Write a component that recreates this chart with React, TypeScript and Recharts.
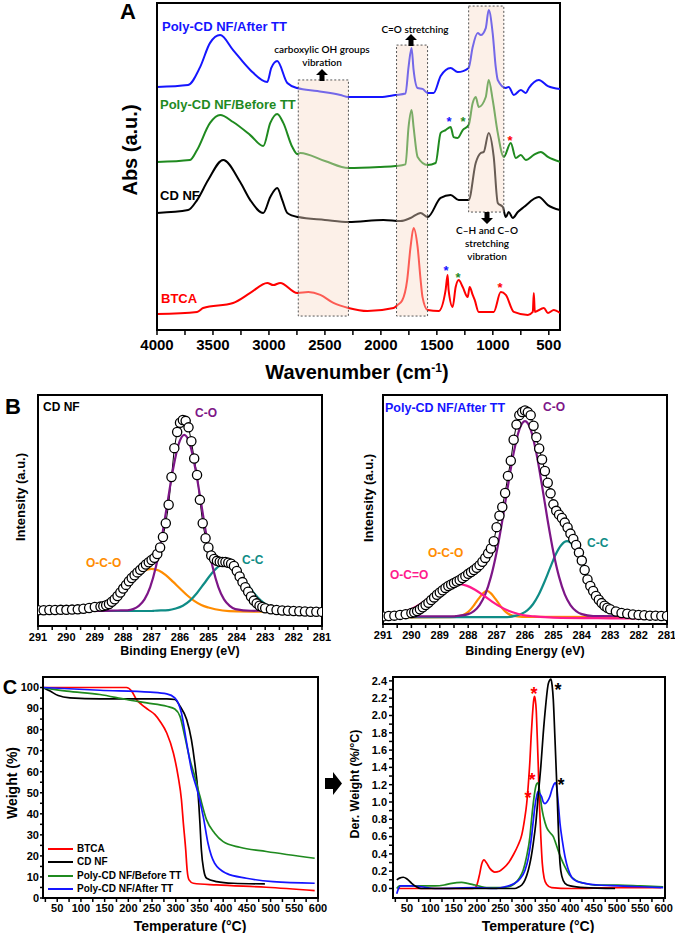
import React from 'react';
import { LineChart, Line, XAxis, YAxis, ReferenceArea } from 'recharts';

const FONT = '"Liberation Sans", Arial, Helvetica, sans-serif';

type Pt = [number, number];
const pts = (a: Pt[]) => a.map(([x, v]) => ({ x, v }));

// ---------- A: FTIR (wavenumber, absorbance offset) ----------
const ftirAfterTT: Pt[] = [
  [4000, 11.15], [3722, 11.24], [3615, 12.06], [3526, 13.17], [3436, 13.53], [3320, 12.84], [3167, 11.93],
  [3015, 11.38], [2979, 12.02], [2926, 12.34], [2836, 11.33], [2747, 11.1], [2568, 10.96], [2362, 10.78],
  [2290, 10.69], [2004, 10.69], [1869, 10.78], [1780, 10.85], [1753, 12.06], [1726, 12.94], [1708, 11.93],
  [1672, 11.1], [1628, 11.06], [1583, 10.87], [1529, 10.87], [1466, 11.65], [1377, 12.02], [1314, 11.83],
  [1216, 12.02], [1180, 12.98], [1135, 13.62], [1108, 13.53], [1063, 13.85], [1037, 14.68], [1001, 13.6],
  [974, 12.06], [956, 11.47], [884, 11.1], [858, 11.15], [813, 10.78], [750, 11.01], [705, 10.87],
  [678, 11.1], [589, 11.47], [508, 11.19], [400, 11.06],
];
const ftirBeforeTT: Pt[] = [
  [4000, 7.71], [3705, 7.8], [3642, 8.26], [3526, 9.5], [3436, 9.86], [3320, 9.54], [3167, 8.94], [3051, 8.44],
  [2988, 9.5], [2926, 9.91], [2872, 9.5], [2791, 8.39], [2747, 8.07], [2720, 8.12], [2500, 7.75], [2290, 7.43],
  [2004, 7.48], [1869, 7.52], [1780, 7.6], [1753, 9.31], [1726, 10.09], [1708, 9.31], [1672, 7.94], [1583, 7.57],
  [1511, 7.66], [1466, 9.04], [1422, 9.17], [1377, 9.31], [1350, 8.85], [1314, 8.81], [1269, 9.17], [1216, 9.4],
  [1180, 10.41], [1153, 10.69], [1126, 10.23], [1063, 10.69], [1037, 11.47], [1001, 10.55], [956, 9.04],
  [902, 7.94], [840, 8.58], [795, 7.89], [750, 8.03], [705, 7.8], [634, 8.03], [571, 8.17], [508, 7.94], [400, 7.71],
];
const ftirCDNF: Pt[] = [
  [4000, 5.37], [3722, 5.5], [3642, 5.96], [3543, 6.88], [3409, 7.8], [3257, 6.79], [3167, 5.96], [3051, 5.37],
  [2988, 6.1], [2926, 6.51], [2881, 5.96], [2836, 5.37], [2738, 5.18], [2500, 5.05], [2290, 4.95], [1977, 5.05],
  [1824, 5.0], [1735, 5.14], [1645, 5.37], [1583, 5.18], [1466, 6.06], [1377, 6.19], [1305, 5.96], [1216, 5.96],
  [1153, 7.66], [1108, 8.12], [1081, 8.17], [1037, 9.04], [992, 7.94], [956, 5.83], [911, 5.64], [884, 5.18],
  [858, 5.41], [822, 5.14], [777, 5.41], [723, 5.64], [589, 6.1], [508, 5.73], [400, 5.5],
];
const ftirBTCA: Pt[] = [
  [4000, 0.73], [3642, 0.83], [3588, 1.01], [3320, 1.24], [3167, 1.7], [3015, 2.16], [2961, 2.06], [2899, 2.16],
  [2747, 1.7], [2648, 1.74], [2541, 1.61], [2424, 1.24], [2290, 1.01], [2120, 0.87], [1887, 1.01], [1851, 1.15],
  [1810, 1.35], [1765, 2.3], [1735, 3.81], [1708, 4.68], [1672, 3.81], [1645, 2.29], [1628, 1.51], [1583, 0.92],
  [1484, 0.87], [1422, 1.83], [1404, 2.52], [1395, 1.83], [1359, 1.06], [1332, 1.97], [1305, 2.29], [1269, 1.97],
  [1225, 1.51], [1207, 1.97], [1180, 1.61], [1162, 1.38], [1126, 0.83], [992, 0.83], [929, 1.74], [884, 1.61],
  [813, 0.83], [687, 0.69], [643, 0.83], [634, 1.7], [625, 0.83], [544, 1.01], [508, 0.78], [455, 0.92], [400, 0.78],
];
const ftirBoxes = [
  { x1: 2738, x2: 2290, y1: 0.64, y2: 11.47 },
  { x1: 1860, x2: 1583, y1: 0.64, y2: 13.07 },
  { x1: 1216, x2: 902, y1: 5.41, y2: 14.86 },
];
const ftirXTicks = [4000, 3750, 3500, 3250, 3000, 2750, 2500, 2250, 2000, 1750, 1500, 1250, 1000, 750, 500];
const ftirYTicks = [0, 1, 2, 3, 4, 5, 6, 7, 8, 9, 10, 11, 12, 13, 14, 15];

// ---------- B: XPS C1s (binding energy, intensity) ----------
const beTicks = [281, 281.5, 282, 282.5, 283, 283.5, 284, 284.5, 285, 285.5, 286, 286.5, 287, 287.5, 288, 288.5, 289, 289.5, 290, 290.5, 291];

const cdExp: Pt[] = [
  [291, 0.18], [290.8, 0.18], [290.6, 0.19], [290.4, 0.19], [290.2, 0.2], [290, 0.2], [289.8, 0.21], [289.6, 0.22],
  [289.4, 0.25], [289.2, 0.28], [289, 0.32], [288.8, 0.34], [288.7, 0.36], [288.6, 0.4], [288.5, 0.45], [288.4, 0.55],
  [288.3, 0.66], [288.2, 0.8], [288.1, 0.95], [288, 1.12], [287.9, 1.28], [287.8, 1.44], [287.7, 1.58], [287.6, 1.7],
  [287.5, 1.82], [287.4, 1.93], [287.3, 2.05], [287.2, 2.16], [287.1, 2.26], [287, 2.36], [286.9, 2.45], [286.8, 2.62],
  [286.7, 2.9], [286.6, 3.35], [286.5, 3.95], [286.4, 4.75], [286.3, 5.95], [286.2, 7.2], [286.1, 7.9], [286, 8.3],
  [285.9, 8.42], [285.8, 8.38], [285.7, 8.1], [285.6, 7.5], [285.5, 6.75], [285.4, 6.04], [285.3, 4.96], [285.2, 3.95],
  [285.1, 3.3], [285, 2.9], [284.9, 2.55], [284.8, 2.4], [284.7, 2.32], [284.6, 2.28], [284.5, 2.27], [284.4, 2.27],
  [284.3, 2.24], [284.2, 2.2], [284.1, 2.1], [284, 1.88], [283.9, 1.64], [283.8, 1.4], [283.7, 1.18], [283.6, 0.98],
  [283.5, 0.78], [283.4, 0.6], [283.3, 0.48], [283.2, 0.38], [283.1, 0.32], [283, 0.27], [282.8, 0.22], [282.6, 0.19],
  [282.4, 0.17], [282.2, 0.16], [282, 0.15], [281.8, 0.14], [281.6, 0.13], [281.4, 0.12], [281.2, 0.12], [281, 0.11],
];
const cdCO: Pt[] = [
  [291, 0.15], [289, 0.15], [288.2, 0.17], [287.85, 0.18], [287.65, 0.23], [287.45, 0.37], [287.25, 0.65], [287.05, 1.18],
  [286.85, 2.05], [286.65, 3.28], [286.45, 4.77], [286.25, 6.25], [286.05, 7.36], [285.85, 7.77], [285.65, 7.36],
  [285.45, 6.25], [285.25, 4.77], [285.05, 3.28], [284.85, 2.05], [284.65, 1.18], [284.45, 0.65], [284.25, 0.37],
  [284.05, 0.23], [283.5, 0.16], [281, 0.15],
];
const cdOCO: Pt[] = [
  [291, 0.15], [290.5, 0.15], [290, 0.16], [289.5, 0.18], [289, 0.3], [288.75, 0.41], [288.5, 0.59], [288.25, 0.83],
  [288, 1.12], [287.75, 1.42], [287.5, 1.7], [287.25, 1.9], [287, 1.97], [286.75, 1.9], [286.5, 1.7], [286.25, 1.42],
  [286, 1.12], [285.75, 0.83], [285.5, 0.59], [285.25, 0.41], [285, 0.3], [284.5, 0.17], [284, 0.13], [283, 0.12],
  [282, 0.11], [281, 0.1],
];
const cdCC: Pt[] = [
  [291, 0.15], [288, 0.15], [287, 0.15], [286.9, 0.16], [286.4, 0.19], [286.15, 0.26], [285.9, 0.38], [285.65, 0.6],
  [285.4, 0.93], [285.15, 1.34], [284.9, 1.75], [284.65, 2.07], [284.4, 2.19], [284.15, 2.07], [283.9, 1.75],
  [283.65, 1.34], [283.4, 0.93], [283.15, 0.6], [282.9, 0.38], [282.65, 0.26], [282.4, 0.19], [281.9, 0.16], [281, 0.15],
];

const ttExp: Pt[] = [
  [291, 0.2], [290.8, 0.21], [290.6, 0.22], [290.4, 0.24], [290.2, 0.26], [290, 0.29], [289.9, 0.31], [289.8, 0.34],
  [289.7, 0.39], [289.6, 0.44], [289.5, 0.5], [289.4, 0.56], [289.3, 0.63], [289.2, 0.7], [289.1, 0.77], [289, 0.83],
  [288.9, 0.89], [288.8, 0.95], [288.7, 1.0], [288.6, 1.04], [288.5, 1.08], [288.4, 1.12], [288.3, 1.16], [288.2, 1.21],
  [288.1, 1.26], [288, 1.32], [287.9, 1.37], [287.8, 1.42], [287.7, 1.48], [287.6, 1.55], [287.5, 1.64], [287.4, 1.74],
  [287.3, 1.86], [287.2, 1.99], [287.1, 2.18], [287, 2.55], [286.9, 2.85], [286.8, 3.08], [286.7, 3.45], [286.6, 3.9],
  [286.5, 4.3], [286.4, 4.85], [286.3, 5.25], [286.2, 5.5], [286.1, 5.58], [286, 5.62], [285.9, 5.58], [285.8, 5.5],
  [285.7, 5.22], [285.6, 4.92], [285.5, 4.62], [285.4, 4.33], [285.3, 4.03], [285.2, 3.72], [285.1, 3.44], [285, 3.15],
  [284.9, 2.98], [284.8, 2.88], [284.7, 2.79], [284.6, 2.67], [284.5, 2.54], [284.4, 2.38], [284.3, 2.24], [284.2, 2.08],
  [284.1, 1.88], [284, 1.67], [283.9, 1.42], [283.8, 1.17], [283.7, 1.0], [283.6, 0.87], [283.5, 0.74], [283.4, 0.64],
  [283.3, 0.55], [283.2, 0.48], [283.1, 0.43], [283, 0.39], [282.8, 0.33], [282.6, 0.29], [282.4, 0.27], [282.2, 0.25],
  [282, 0.24], [281.8, 0.23], [281.6, 0.22], [281.4, 0.22], [281.2, 0.21], [281, 0.21],
];
const ttCO: Pt[] = [
  [291, 0.2], [288.5, 0.2], [288.4, 0.21], [288, 0.26], [287.8, 0.34], [287.6, 0.5], [287.4, 0.78], [287.2, 1.24],
  [287, 1.89], [286.8, 2.72], [286.6, 3.64], [286.4, 4.5], [286.2, 5.12], [286, 5.34], [285.8, 5.12], [285.6, 4.5],
  [285.4, 3.64], [285.2, 2.72], [285, 1.89], [284.8, 1.24], [284.6, 0.78], [284.4, 0.5], [284.2, 0.34], [284, 0.26],
  [283.6, 0.21], [281, 0.2],
];
const ttOCO: Pt[] = [
  [291, 0.17], [288.6, 0.18], [288.24, 0.22], [288.09, 0.27], [287.94, 0.36], [287.79, 0.5], [287.64, 0.66],
  [287.49, 0.8], [287.34, 0.87], [287.19, 0.8], [287.04, 0.66], [286.89, 0.5], [286.74, 0.36], [286.59, 0.27],
  [286.44, 0.22], [286.1, 0.19], [281, 0.18],
];
const ttOCdO: Pt[] = [
  [291, 0.2], [290.76, 0.22], [290.46, 0.27], [290.16, 0.34], [289.86, 0.45], [289.56, 0.59], [289.26, 0.75],
  [288.96, 0.9], [288.66, 1.01], [288.36, 1.05], [288.06, 1.01], [287.76, 0.9], [287.46, 0.75], [287.16, 0.59],
  [286.86, 0.45], [286.56, 0.34], [286.26, 0.27], [285.96, 0.22], [285.66, 0.2], [285, 0.17], [283, 0.15], [281, 0.14],
];
const ttCC: Pt[] = [
  [291, 0.18], [287, 0.18], [286.72, 0.18], [286.32, 0.22], [286.12, 0.27], [285.92, 0.36], [285.72, 0.52],
  [285.52, 0.77], [285.32, 1.1], [285.12, 1.47], [284.92, 1.83], [284.72, 2.08], [284.52, 2.18], [284.32, 2.08],
  [284.12, 1.83], [283.92, 1.47], [283.72, 1.1], [283.52, 0.77], [283.32, 0.52], [283.12, 0.36], [282.92, 0.27],
  [282.72, 0.22], [282.32, 0.18], [281, 0.17],
];

// ---------- C: TGA (temperature, weight %) ----------
const tgaBTCA: Pt[] = [
  [20, 100], [100, 100], [196, 100], [207, 98.3], [217, 94.3], [228, 91.9], [242, 89.5], [256, 87.1], [267, 83.9],
  [281, 78.4], [295, 68.9], [305, 57.8], [312, 46.7], [316, 35.6], [321, 22.9], [324, 13.3], [328, 8.6], [337, 7.0],
  [386, 6.2], [491, 5.1], [593, 3.5],
];
const tgaCDNF: Pt[] = [
  [20, 100], [35, 98.3], [52, 96.2], [77, 95.1], [140, 94.6], [281, 94.6], [298, 94.3], [309, 91.1], [323, 84.8],
  [333, 75.2], [340, 64.3], [347, 49.8], [351, 35.6], [354, 22.9], [359, 13.3], [365, 9.4], [386, 7.8], [421, 7.0],
  [488, 6.7],
];
const tgaBeforeTT: Pt[] = [
  [20, 100], [70, 98.3], [140, 96.7], [196, 94.3], [239, 92.7], [281, 91.1], [298, 89.8], [309, 86.3], [319, 76.8],
  [330, 65.7], [340, 57.8], [351, 48.3], [365, 37.1], [382, 30.8], [400, 26.8], [435, 24.1], [491, 22.1], [593, 18.9],
];
const tgaAfterTT: Pt[] = [
  [20, 100], [140, 98.7], [246, 97.8], [281, 97.0], [298, 95.1], [312, 87.9], [323, 73.7], [333, 61.0], [347, 49.8],
  [358, 38.7], [368, 26.0], [382, 16.5], [407, 11.7], [449, 9.4], [505, 7.8], [593, 7.0],
];
const tgaXTicks = [25, 50, 75, 100, 125, 150, 175, 200, 225, 250, 275, 300, 325, 350, 375, 400, 425, 450, 475, 500, 525, 550, 575, 600];
const tgaYTicks = [0, 5, 10, 15, 20, 25, 30, 35, 40, 45, 50, 55, 60, 65, 70, 75, 80, 85, 90, 95, 100];

// ---------- C: DTG (temperature, derivative weight) ----------
const dtgBTCA: Pt[] = [
  [30, 0], [100, 0], [190, 0], [198, 0.02], [205, 0.15], [210, 0.28], [215, 0.33], [220, 0.3], [228, 0.23], [238, 0.19],
  [248, 0.2], [258, 0.24], [268, 0.3], [278, 0.39], [288, 0.5], [296, 0.62], [302, 0.8], [306.5, 0.98], [310, 1.2],
  [313.5, 1.48], [316, 1.75], [318.6, 1.98], [321, 2.15], [323, 2.22], [325, 2.18], [327, 2.06], [329, 1.78],
  [331.4, 1.41], [333, 1.1], [335, 0.83], [337, 0.58], [340, 0.29], [344, 0.12], [349, 0.05], [360, 0.01], [400, 0],
  [500, 0.01], [595, 0.01],
];
const dtgCDNF: Pt[] = [
  [28, 0.1], [34, 0.12], [42, 0.13], [50, 0.11], [60, 0.06], [70, 0.02], [80, 0], [150, 0], [250, 0], [281, 0],
  [290, 0.02], [296, 0.04], [303, 0.1], [310, 0.21], [315, 0.33], [320.6, 0.52], [326, 0.75], [331, 1.06], [337, 1.42],
  [342, 1.79], [347, 2.1], [353, 2.37], [358.6, 2.42], [361, 2.35], [363.6, 2.18], [367, 1.75], [371, 1.21], [374, 0.75],
  [378, 0.29], [382, 0.14], [388.6, 0.06], [400, 0.03], [431, 0.01], [496, 0],
];
const dtgBeforeTT: Pt[] = [
  [28, 0], [34, 0.03], [60, 0.03], [110, 0.03], [130, 0.04], [146, 0.06], [167, 0.07], [180, 0.06], [196, 0.04],
  [224, 0.01], [250, 0.01], [267, 0.02], [285, 0.08], [292, 0.13], [299, 0.21], [306, 0.36], [313.5, 0.6], [317, 0.8],
  [320.6, 0.98], [324, 1.12], [328, 1.21], [331, 1.22], [333, 1.17], [336, 1.05], [338.6, 0.94], [343, 0.82], [349, 0.71],
  [356, 0.65], [363.6, 0.6], [369, 0.52], [374, 0.44], [381, 0.34], [388.6, 0.25], [398, 0.16], [410, 0.1], [430, 0.06],
  [453, 0.04], [503, 0.04], [550, 0.03], [599, 0.02],
];
const dtgAfterTT: Pt[] = [
  [28, -0.06], [32, 0], [36, 0.03], [60, 0.03], [80, 0.02], [110, 0], [200, 0.01], [238, 0], [260, 0.02], [281, 0.06],
  [292, 0.11], [303, 0.21], [310, 0.35], [317, 0.6], [321, 0.8], [324, 0.94], [328, 1.07], [331, 1.12], [334, 1.1],
  [338.6, 1.06], [342, 1.0], [345.7, 0.98], [350, 1.0], [356, 1.06], [361, 1.15], [365.6, 1.21], [368, 1.22], [371, 1.17],
  [374, 1.0], [378, 0.75], [383, 0.55], [388.6, 0.37], [395, 0.23], [403, 0.13], [415, 0.08], [431, 0.06], [460, 0.04],
  [503, 0.03], [550, 0.02], [599, 0.01],
];
const dtgYTicks = [0, 0.1, 0.2, 0.3, 0.4, 0.5, 0.6, 0.7, 0.8, 0.9, 1.0, 1.1, 1.2, 1.3, 1.4, 1.5, 1.6, 1.7, 1.8, 1.9, 2.0, 2.1, 2.2, 2.3, 2.4];

const tgaLegend = [
  { name: 'BTCA', color: '#ff0000' },
  { name: 'CD NF', color: '#000000' },
  { name: 'Poly-CD NF/Before TT', color: '#1f8a1f' },
  { name: 'Poly-CD NF/After TT', color: '#1515ff' },
];

const BLUE = '#1515ff';
const GREEN = '#1f8a1f';
const RED = '#ff0000';
const PURPLE = '#7d1687';
const ORANGE = '#ff8c00';
const TEAL = '#0f8c86';
const PINK = '#ff1a8c';

const axisLine = { stroke: '#000', strokeWidth: 2 };
const tickLine = { stroke: '#000', strokeWidth: 1.5 };
const tickFont = (size: number) => ({ fill: '#000', fontSize: size, fontWeight: 700, fontFamily: FONT });

function Txt({ x, y, children, size = 12, color = '#000', weight = 700, center = false, rotate = false, family = FONT }: any) {
  const tr = rotate ? 'translate(-50%,-50%) rotate(-90deg)' : center ? 'translate(-50%,-50%)' : 'translateY(-50%)';
  return (
    <div style={{ position: 'absolute', left: x, top: y, transform: tr, fontSize: size, color, fontWeight: weight,
      fontFamily: family, whiteSpace: 'nowrap', lineHeight: 1 }}>{children}</div>
  );
}

function Arrow({ x, y, dir }: { x: number; y: number; dir: 'up' | 'down' | 'right' }) {
  if (dir === 'right') {
    return (
      <svg style={{ position: 'absolute', left: x, top: y }} width={17} height={23}>
        <polygon points="0,6 8,6 8,0 17,11.5 8,23 8,17 0,17" fill="#000" />
      </svg>
    );
  }
  const p = dir === 'up' ? '6,0 12,6 8.5,6 8.5,12 3.5,12 3.5,6 0,6' : '6,12 12,6 8.5,6 8.5,0 3.5,0 3.5,6 0,6';
  return (
    <svg style={{ position: 'absolute', left: x - 6, top: y }} width={12} height={12}>
      <polygon points={p} fill="#000" />
    </svg>
  );
}

const star = (x: number, y: number, color: string, size = 13) => (
  <Txt x={x} y={y} color={color} size={size} center>*</Txt>
);

function FtirChart() {
  return (
    <LineChart width={575} height={380} margin={{ top: 3, right: 15, left: 0, bottom: 0 }}>
      <XAxis type="number" dataKey="x" domain={[400, 4000]} reversed allowDataOverflow ticks={ftirXTicks} interval={0}
        tickFormatter={(t: number) => (t % 500 === 0 ? String(t) : '')} height={50} axisLine={axisLine}
        tickLine={tickLine} tickSize={5} tickMargin={4} tick={tickFont(15)} />
      <YAxis type="number" domain={[0, 15]} ticks={ftirYTicks} interval={0} width={157} tick={false}
        axisLine={axisLine} tickLine={tickLine} tickSize={5} allowDataOverflow />
      <Line data={pts(ftirAfterTT)} dataKey="v" type="monotone" stroke={BLUE} strokeWidth={2} dot={false} isAnimationActive={false} />
      <Line data={pts(ftirBeforeTT)} dataKey="v" type="monotone" stroke={GREEN} strokeWidth={2} dot={false} isAnimationActive={false} />
      <Line data={pts(ftirCDNF)} dataKey="v" type="monotone" stroke="#000" strokeWidth={2} dot={false} isAnimationActive={false} />
      <Line data={pts(ftirBTCA)} dataKey="v" type="monotone" stroke={RED} strokeWidth={2} dot={false} isAnimationActive={false} />
      {ftirBoxes.map((b, i) => (
        <ReferenceArea key={i} {...b} fill="#f9dcc8" fillOpacity={0.42} stroke="#555" strokeWidth={1}
          strokeDasharray="2 2" ifOverflow="visible" zIndex={450} />
      ))}
      <ReferenceArea x1={4000} x2={400} y1={0} y2={15} fill="none" stroke="#000" strokeWidth={2} ifOverflow="visible" />
    </LineChart>
  );
}

function XpsChart({ exp, fits, ymin, ymax, yTicks, yWidth, right, bottom }: any) {
  return (
    <LineChart width={335} height={270} margin={{ top: 10, right, left: 0, bottom: 0 }}>
      <XAxis type="number" dataKey="x" domain={[281, 291]} reversed allowDataOverflow ticks={beTicks} interval={0}
        tickFormatter={(t: number) => (Number.isInteger(t) ? String(t) : '')} height={bottom} axisLine={axisLine}
        tickLine={tickLine} tickSize={4} tickMargin={3} tick={tickFont(11)} />
      <YAxis type="number" domain={[ymin, ymax]} ticks={yTicks} interval={0}
        width={yWidth} tick={false} axisLine={axisLine} tickLine={tickLine} tickSize={4} allowDataOverflow />
      <Line data={pts(exp)} dataKey="v" type="linear" stroke="#000" strokeWidth={1}
        dot={{ r: 4.6, fill: '#fff', stroke: '#000', strokeWidth: 1.3 }} isAnimationActive={false} />
      {fits.map((f: any, i: number) => (
        <Line key={i} data={pts(f.d)} dataKey="v" type="monotone" stroke={f.c} strokeWidth={2.2} dot={false} isAnimationActive={false} />
      ))}
      <ReferenceArea x1={291} x2={281} y1={ymin} y2={ymax} fill="none" stroke="#000" strokeWidth={2} ifOverflow="visible" />
    </LineChart>
  );
}

export default function App() {
  return (
    <div style={{ position: 'absolute', left: 0, top: 0, width: 675, height: 933, background: '#fff', overflow: 'hidden', fontFamily: FONT }}>
      {/* A */}
      <div style={{ position: 'absolute', left: 0, top: 0 }}><FtirChart /></div>
      <Txt x={128} y={12} size={22} center>A</Txt>
      <Txt x={130} y={150} size={20} rotate>Abs (a.u.)</Txt>
      <Txt x={357} y={372} size={20} center>Wavenumber (cm<sup style={{ fontSize: 12 }}>-1</sup>)</Txt>
      <Txt x={162} y={26} size={13} color={BLUE}>Poly-CD NF/After TT</Txt>
      <Txt x={160} y={104} size={13} color={GREEN}>Poly-CD NF/Before TT</Txt>
      <Txt x={160} y={195} size={13}>CD NF</Txt>
      <Txt x={161} y={298} size={13} color={RED}>BTCA</Txt>
      <Txt x={322} y={49} size={10} weight={600} family="Lato, sans-serif" center>carboxylic OH groups</Txt>
      <Txt x={322} y={62} size={10} weight={600} family="Lato, sans-serif" center>vibration</Txt>
      <Arrow x={322} y={69} dir="up" />
      <Txt x={415} y={29} size={10} weight={600} family="Lato, sans-serif" center>C=O stretching</Txt>
      <Arrow x={411} y={34} dir="up" />
      <Arrow x={487} y={212} dir="down" />
      <Txt x={487} y={230} size={10} weight={600} family="Lato, sans-serif" center>C–H and C–O</Txt>
      <Txt x={487} y={243} size={10} weight={600} family="Lato, sans-serif" center>stretching</Txt>
      <Txt x={487} y={256} size={10} weight={600} family="Lato, sans-serif" center>vibration</Txt>
      {star(449, 121, BLUE)}
      {star(463, 121, GREEN)}
      {star(510, 140, RED)}
      {star(446, 270, BLUE)}
      {star(458, 277, GREEN)}
      {star(500, 287, RED)}

      {/* B */}
      <div style={{ position: 'absolute', left: 0, top: 385 }}>
        <XpsChart exp={cdExp} ymin={-0.5} ymax={9.5} yTicks={[0, 1, 2, 3, 4, 5, 6, 7, 8, 9]} yWidth={38} right={13} bottom={29}
          fits={[{ d: cdOCO, c: ORANGE }, { d: cdCC, c: TEAL }, { d: cdCO, c: PURPLE }]} />
      </div>
      <div style={{ position: 'absolute', left: 340, top: 385 }}>
        <XpsChart exp={ttExp} ymin={0} ymax={6.03} yTicks={[0, 1, 2, 3, 4, 5]} yWidth={43} right={8} bottom={31}
          fits={[{ d: ttOCO, c: ORANGE }, { d: ttCC, c: TEAL }, { d: ttCO, c: PURPLE }, { d: ttOCdO, c: PINK }]} />
      </div>
      <Txt x={13} y={407} size={22} center>B</Txt>
      <Txt x={20} y={497} size={13} rotate>Intensity (a.u.)</Txt>
      <Txt x={368} y={498} size={13} rotate>Intensity (a.u.)</Txt>
      <Txt x={180} y={651} size={12.5} center>Binding Energy (eV)</Txt>
      <Txt x={525} y={651} size={12.5} center>Binding Energy (eV)</Txt>
      <Txt x={43} y={407} size={12}>CD NF</Txt>
      <Txt x={195} y={413} size={12} color={PURPLE}>C-O</Txt>
      <Txt x={86} y={563} size={12} color={ORANGE}>O-C-O</Txt>
      <Txt x={242} y={560} size={12} color={TEAL}>C-C</Txt>
      <Txt x={385} y={408} size={12.5} color={BLUE}>Poly-CD NF/After TT</Txt>
      <Txt x={543} y={407} size={12} color={PURPLE}>C-O</Txt>
      <Txt x={428} y={553} size={12} color={ORANGE}>O-C-O</Txt>
      <Txt x={390} y={575} size={12} color={PINK}>O-C=O</Txt>
      <Txt x={587} y={543} size={12} color={TEAL}>C-C</Txt>

      {/* C */}
      <div style={{ position: 'absolute', left: 0, top: 665 }}>
        <LineChart width={330} height={268} margin={{ top: 12, right: 12, left: 0, bottom: 0 }}>
          <XAxis type="number" dataKey="x" domain={[20, 600]} allowDataOverflow ticks={tgaXTicks} interval={0}
            tickFormatter={(t: number) => (t % 50 === 0 ? String(t) : '')} height={35} axisLine={axisLine}
            tickLine={tickLine} tickSize={4} tickMargin={2} tick={tickFont(11)} />
          <YAxis type="number" domain={[0, 105]} ticks={tgaYTicks} interval={0} width={43} allowDataOverflow
            tickFormatter={(t: number) => (t % 10 === 0 ? String(t) : '')} axisLine={axisLine} tickLine={tickLine}
            tickSize={3} tickMargin={1} tick={tickFont(11)} />
          <Line data={pts(tgaBTCA)} dataKey="v" type="monotone" stroke={RED} strokeWidth={1.7} dot={false} isAnimationActive={false} />
          <Line data={pts(tgaCDNF)} dataKey="v" type="monotone" stroke="#000" strokeWidth={1.7} dot={false} isAnimationActive={false} />
          <Line data={pts(tgaBeforeTT)} dataKey="v" type="monotone" stroke={GREEN} strokeWidth={1.7} dot={false} isAnimationActive={false} />
          <Line data={pts(tgaAfterTT)} dataKey="v" type="monotone" stroke={BLUE} strokeWidth={1.7} dot={false} isAnimationActive={false} />
          <ReferenceArea x1={20} x2={600} y1={0} y2={105} fill="none" stroke="#000" strokeWidth={2} ifOverflow="visible" />
        </LineChart>
      </div>
      <div style={{ position: 'absolute', left: 340, top: 665 }}>
        <LineChart width={335} height={268} margin={{ top: 12, right: 10, left: 0, bottom: 0 }}>
          <XAxis type="number" dataKey="x" domain={[20, 603]} allowDataOverflow ticks={tgaXTicks} interval={0}
            tickFormatter={(t: number) => (t % 50 === 0 ? String(t) : '')} height={35} axisLine={axisLine}
            tickLine={tickLine} tickSize={4} tickMargin={2} tick={tickFont(11)} />
          <YAxis type="number" domain={[-0.11, 2.445]} ticks={dtgYTicks} interval={0} width={53} allowDataOverflow
            tickFormatter={(t: number) => (Math.round(t * 10) % 2 === 0 ? t.toFixed(1) : '')} axisLine={axisLine}
            tickLine={tickLine} tickSize={4} tickMargin={2} tick={tickFont(11)} />
          <Line data={pts(dtgBTCA)} dataKey="v" type="monotone" stroke={RED} strokeWidth={1.7} dot={false} isAnimationActive={false} />
          <Line data={pts(dtgBeforeTT)} dataKey="v" type="monotone" stroke={GREEN} strokeWidth={1.7} dot={false} isAnimationActive={false} />
          <Line data={pts(dtgAfterTT)} dataKey="v" type="monotone" stroke={BLUE} strokeWidth={1.7} dot={false} isAnimationActive={false} />
          <Line data={pts(dtgCDNF)} dataKey="v" type="monotone" stroke="#000" strokeWidth={1.7} dot={false} isAnimationActive={false} />
          <ReferenceArea x1={20} x2={603} y1={-0.11} y2={2.445} fill="none" stroke="#000" strokeWidth={2} ifOverflow="visible" />
        </LineChart>
      </div>
      <Txt x={10} y={687} size={20} center>C</Txt>
      <Txt x={12} y={783} size={14} rotate>Weight (%)</Txt>
      <Txt x={355} y={784} size={12.5} rotate>Der. Weight (%/°C)</Txt>
      <Txt x={190} y={926} size={14} center>Temperature (°C)</Txt>
      <Txt x={538} y={926} size={14} center>Temperature (°C)</Txt>
      <Arrow x={325} y={772} dir="right" />
      {tgaLegend.map((l, i) => (
        <div key={l.name} style={{ position: 'absolute', left: 48, top: [849, 862, 876, 889][i], transform: 'translateY(-50%)',
          display: 'flex', alignItems: 'center', fontSize: 10, fontWeight: 700, lineHeight: 1, whiteSpace: 'nowrap' }}>
          <div style={{ width: 25, height: 2, background: l.color, marginRight: 4 }} />
          <span>{l.name}</span>
        </div>
      ))}
      {star(534, 694, RED, 18)}
      {star(558, 690, '#000', 18)}
      {star(532, 780, RED, 18)}
      {star(528, 798, RED, 18)}
      {star(561, 785, '#000', 18)}
    </div>
  );
}
